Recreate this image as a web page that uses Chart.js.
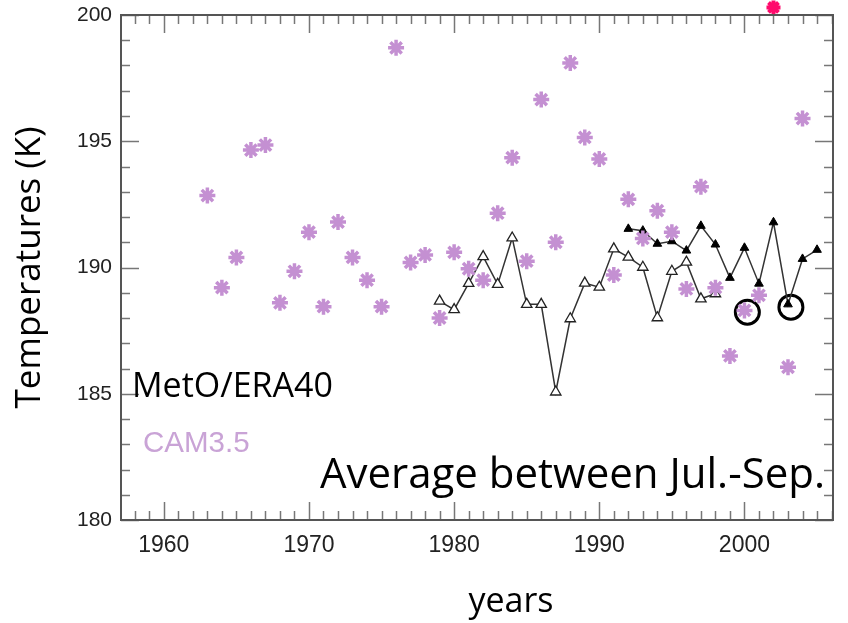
<!DOCTYPE html>
<html>
<head>
<meta charset="utf-8">
<script src="https://cdn.jsdelivr.net/npm/chart.js@4"></script>
<style>
  body { margin: 0; background: #fff; }
  canvas { display: block; }
</style>
</head>
<body>
<canvas id="chart" width="848" height="623"></canvas>
<script>
const camYears = [1963, 1964, 1965, 1966, 1967, 1968, 1969, 1970, 1971, 1972, 1973, 1974, 1975, 1976, 1977, 1978, 1979, 1980, 1981, 1982, 1983, 1984, 1985, 1986, 1987, 1988, 1989, 1990, 1991, 1992, 1993, 1994, 1995, 1996, 1997, 1998, 1999, 2000, 2001, 2003, 2004]
const camTemps = [192.85, 189.2, 190.4, 194.65, 194.85, 188.6, 189.85, 191.4, 188.45, 191.8, 190.4, 189.5, 188.45, 198.7, 190.2, 190.5, 188.0, 190.6, 189.95, 189.5, 192.15, 194.35, 190.25, 196.65, 191.0, 198.1, 195.15, 194.3, 189.7, 192.7, 191.15, 192.25, 191.4, 189.15, 193.2, 189.2, 186.5, 188.3, 188.9, 186.05, 195.9]

const offYears = [2002]
const offTemps = [200.3]

const metoYears = [1979, 1980, 1981, 1982, 1983, 1984, 1985, 1986, 1987, 1988, 1989, 1990, 1991, 1992, 1993, 1994, 1995, 1996, 1997, 1998]
const metoTemps = [188.67, 188.33, 189.37, 190.43, 189.33, 191.17, 188.54, 188.54, 185.07, 187.97, 189.38, 189.22, 190.74, 190.41, 190.01, 188.01, 189.85, 190.21, 188.76, 188.96]

const era40Years = [1992, 1993, 1994, 1995, 1996, 1997, 1998, 1999, 2000, 2001, 2002, 2003, 2004, 2005]
const era40Temps = [191.53, 191.46, 190.94, 191.04, 190.67, 191.65, 190.91, 189.59, 190.78, 189.36, 191.79, 188.54, 190.34, 190.7]

const circleYears = [2000.2, 2003.2]
const circleTemps = [188.23, 188.43]

const xTicks = [1960, 1970, 1980, 1990, 2000]
const yTicks = [180, 185, 190, 195, 200]

const pts = (xs, ys) => xs.map((x, i) => ({x: x, y: ys[i]}))

const frameAndText = {
    id: 'frameAndText',
    afterDraw(chart) {
        const ctx = chart.ctx
        const a = chart.chartArea
        const xs = chart.scales.x, ys = chart.scales.y
        ctx.save()
        // inward ticks on all four sides
        ctx.strokeStyle = '#777'
        ctx.lineWidth = 1.5
        ctx.beginPath()
        for (let yr = 1958; yr <= 2006; yr++) {
            const px = Math.round(xs.getPixelForValue(yr)) + 0.5
            const len = yr % 10 === 0 ? 18 : 9
            ctx.moveTo(px, a.bottom); ctx.lineTo(px, a.bottom - len)
            ctx.moveTo(px, a.top); ctx.lineTo(px, a.top + len)
        }
        for (let t = 180; t <= 200; t++) {
            const py = Math.round(ys.getPixelForValue(t)) + 0.5
            const len = t % 5 === 0 ? 18 : 9
            ctx.moveTo(a.left, py); ctx.lineTo(a.left + len, py)
            ctx.moveTo(a.right, py); ctx.lineTo(a.right - len, py)
        }
        ctx.stroke()
        ctx.strokeStyle = '#555'
        ctx.lineWidth = 2
        ctx.strokeRect(a.left, a.top, a.right - a.left, a.bottom - a.top)

        ctx.fillStyle = '#000'
        ctx.textBaseline = 'alphabetic'
        ctx.font = '34px "Open Sans"'
        ctx.textAlign = 'left'
        ctx.fillText('MetO/ERA40', 132, 397)
        ctx.fillStyle = '#c9a3d6'
        ctx.font = '29.5px "Liberation Sans"'
        ctx.fillText('CAM3.5', 143, 452)
        ctx.fillStyle = '#000'
        ctx.font = '42px "Open Sans"'
        ctx.textAlign = 'right'
        ctx.fillText('Average between Jul.-Sep.', 825, 488)
        ctx.font = '34px "Open Sans"'
        ctx.textAlign = 'center'
        ctx.fillText('years', 511, 612)
        ctx.restore()
    }
}

new Chart(document.getElementById('chart'), {
    type: 'scatter',
    data: {
        datasets: [
            {
                label: 'CAM3.5',
                data: pts(camYears, camTemps),
                pointStyle: 'star',
                radius: 8,
                borderWidth: 3.5,
                borderColor: '#c490d2',
                backgroundColor: '#c490d2'
            },
            {
                label: 'off scale',
                data: pts(offYears, offTemps),
                pointStyle: 'star',
                radius: 7,
                borderWidth: 4,
                borderColor: '#ff0a6c',
                backgroundColor: '#ff0a6c',
                clip: false
            },
            {
                label: 'MetO',
                data: pts(metoYears, metoTemps),
                showLine: true,
                borderColor: '#333',
                borderWidth: 1.5,
                pointStyle: 'triangle',
                radius: 6,
                pointBorderWidth: 1.3,
                pointBorderColor: '#222',
                pointBackgroundColor: '#fff'
            },
            {
                label: 'ERA40',
                data: pts(era40Years, era40Temps),
                showLine: true,
                borderColor: '#333',
                borderWidth: 1.5,
                pointStyle: 'triangle',
                radius: 5,
                pointBorderWidth: 1,
                pointBorderColor: '#000',
                pointBackgroundColor: '#000'
            },
            {
                label: 'marked',
                data: pts(circleYears, circleTemps),
                pointStyle: 'circle',
                radius: 12,
                borderWidth: 3,
                borderColor: '#000',
                backgroundColor: 'rgba(0,0,0,0)'
            }
        ]
    },
    options: {
        responsive: false,
        animation: false,
        layout: { padding: { left: 0, right: 13, top: 14, bottom: 0 } },
        plugins: {
            legend: { display: false },
            tooltip: { enabled: false }
        },
        scales: {
            x: {
                type: 'linear',
                min: 1957.05,
                max: 2006.1,
                afterBuildTicks: s => { s.ticks = xTicks.map(v => ({value: v})) },
                afterFit: s => { s.height = 103; s.paddingLeft = 0; s.paddingRight = 0 },
                grid: { display: false, drawTicks: false },
                border: { display: false },
                ticks: {
                    padding: 12,
                    color: '#222',
                    font: { family: 'Liberation Sans', size: 23 },
                    callback: v => String(v)
                }
            },
            y: {
                min: 180,
                max: 200,
                afterBuildTicks: s => { s.ticks = yTicks.map(v => ({value: v})) },
                afterFit: s => { s.width = 121; s.paddingTop = 0; s.paddingBottom = 0 },
                grid: { display: false, drawTicks: false },
                border: { display: false },
                title: {
                    display: true,
                    text: 'Temperatures (K)',
                    color: '#000',
                    font: { family: 'Open Sans', size: 35 },
                    padding: { top: 9, bottom: 0 }
                },
                ticks: {
                    padding: 9,
                    color: '#222',
                    font: { family: 'Liberation Sans', size: 21 }
                }
            }
        }
    },
    plugins: [frameAndText]
})
</script>
</body>
</html>
